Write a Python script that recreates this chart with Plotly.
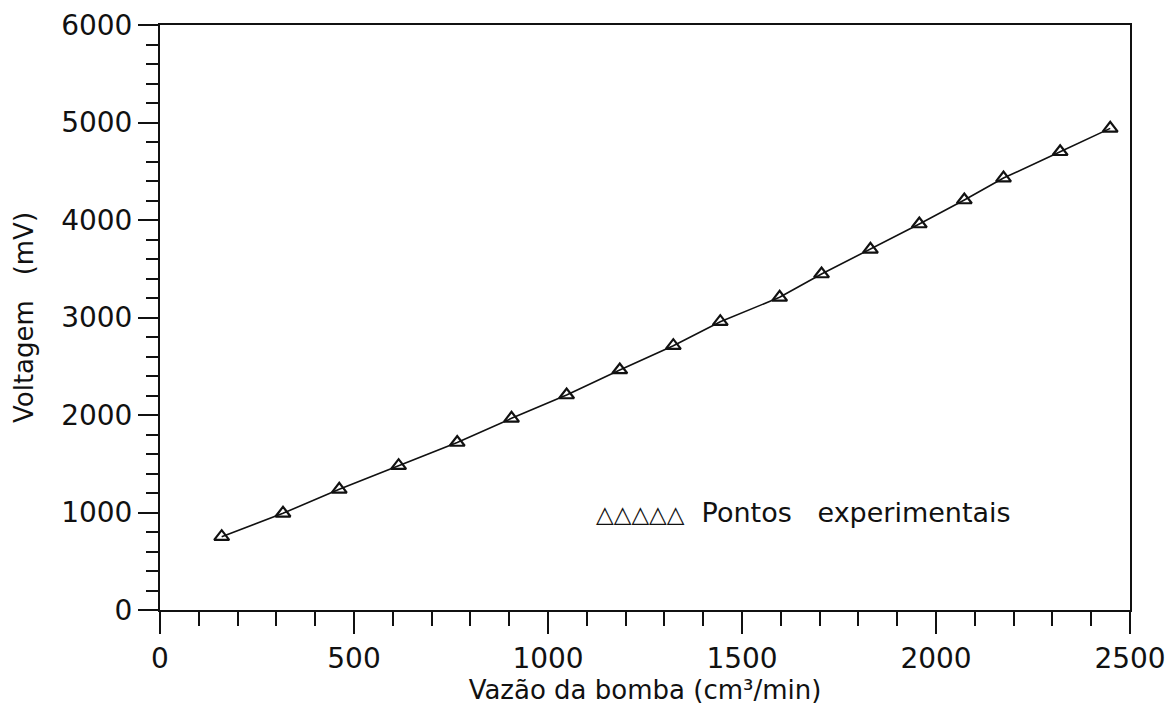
import plotly.graph_objects as go

# Vazão da bomba (cm³/min) e voltagem medida (mV)
vazao = [159, 317, 462, 615, 766, 906, 1048, 1185, 1323, 1444,
         1597, 1705, 1831, 1957, 2073, 2174, 2320, 2449]
voltagem = [752, 992, 1238, 1480, 1718, 1966, 2205, 2462, 2711, 2957,
            3207, 3446, 3699, 3959, 4205, 4430, 4700, 4940]

x_ticks = [0, 500, 1000, 1500, 2000, 2500]
y_ticks = [0, 1000, 2000, 3000, 4000, 5000, 6000]

FONT = "DejaVu Sans"
INK = "#111111"

fig = go.Figure()
fig.add_trace(go.Scatter(
    x=vazao, y=voltagem,
    mode="lines+markers",
    line=dict(color=INK, width=1.6),
    marker=dict(symbol="triangle-up-open", size=13, color=INK,
                line=dict(color=INK, width=2.2)),
    showlegend=False,
))

fig.add_annotation(
    x=1118, y=1005, xref="x", yref="y", xanchor="left", yanchor="middle",
    showarrow=False,
    text="<span style='font-size:23px'>△△△△△</span>&nbsp;&nbsp;Pontos&nbsp;&nbsp;&nbsp;experimentais",
    font=dict(family=FONT, size=27, color=INK),
)

axis_common = dict(
    showline=True, linecolor=INK, linewidth=2, mirror=True,
    showgrid=False, zeroline=False, ticks="outside", tickcolor=INK,
    tickwidth=2, tickfont=dict(family=FONT, size=28, color=INK),
    automargin=False,
)

fig.update_xaxes(
    range=[0, 2500], tickmode="array", tickvals=x_ticks,
    ticktext=[str(v) for v in x_ticks], ticklen=22,
    minor=dict(dtick=100, ticklen=14, tickcolor=INK, tickwidth=2, ticks="outside"),
    title=dict(text="Vazão da bomba (cm³/min)", standoff=6,
               font=dict(family=FONT, size=26, color=INK)),
    **axis_common,
)
fig.update_yaxes(
    range=[0, 6000], tickmode="array", tickvals=y_ticks,
    ticktext=[str(v) for v in y_ticks], ticklen=20,
    minor=dict(dtick=200, ticklen=12, tickcolor=INK, tickwidth=2, ticks="outside"),
    title=dict(text="Voltagem&nbsp;&nbsp;&nbsp;(mV)", standoff=20,
               font=dict(family=FONT, size=26, color=INK)),
    **axis_common,
)

fig.update_layout(
    width=1167, height=711,
    margin=dict(l=160, r=37, t=25, b=101),
    paper_bgcolor="white", plot_bgcolor="white",
)

fig.write_html("out.html")
